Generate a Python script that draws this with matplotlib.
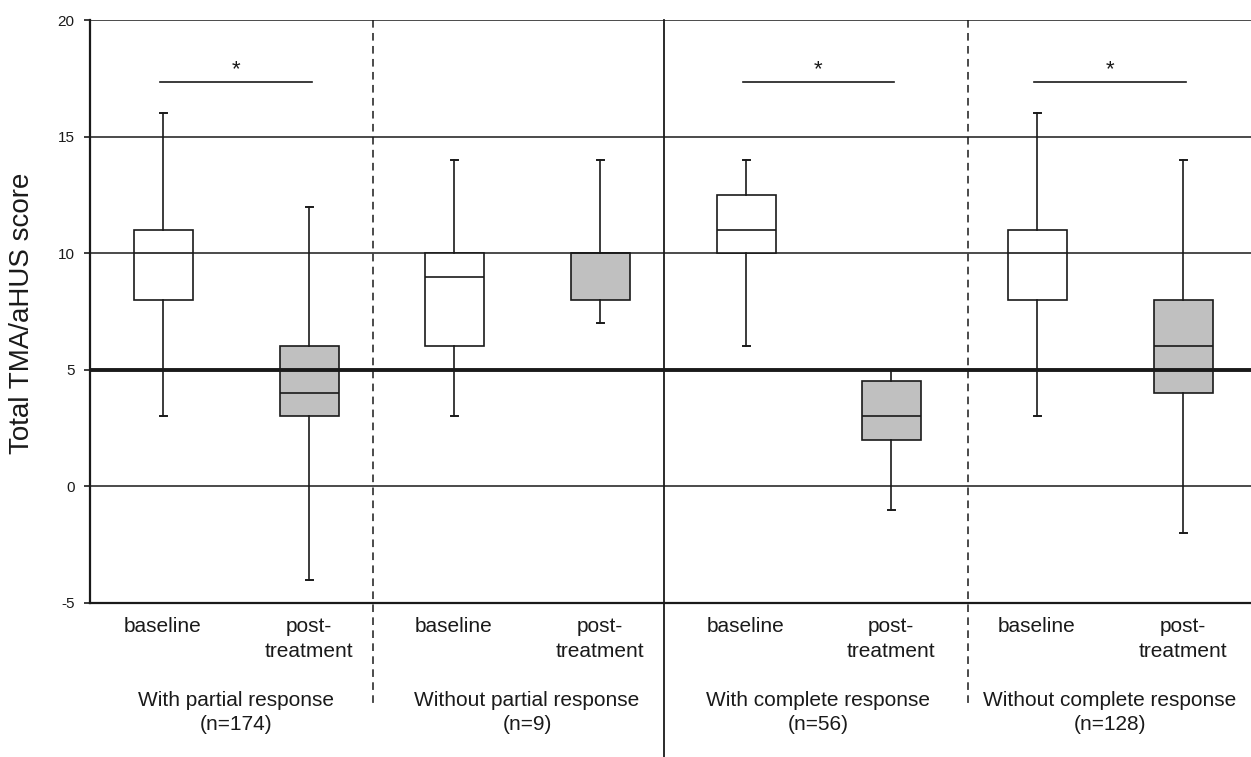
import matplotlib
matplotlib.use("Agg")
import matplotlib.pyplot as plt

# === Data ===
group_names = ["With partial response", "Without partial response",
               "With complete response", "Without complete response"]
group_n = [174, 9, 56, 128]
box_labels = ["baseline", "post-\ntreatment"] * 4

whis_lo = [3, -4, 3, 7, 6, -1, 3, -2]
q1 = [8, 3, 6, 8, 10, 2, 8, 4]
medians = [10, 4, 9, 10, 11, 3, 10, 6]
q3 = [11, 6, 10, 10, 12.5, 4.5, 11, 8]
whis_hi = [16, 12, 14, 14, 14, 5, 16, 14]

sig_pairs = [(0, 1), (4, 5), (6, 7)]
sig_level = 17.35
threshold = 5

# === Layout (x in pixel-like units of the original figure) ===
positions = [163, 309, 454, 600, 746, 891, 1037, 1183]
dividers = [(373, "dashed", -9.5), (664, "solid", -11.6), (968, "dashed", -9.5)]
fills = ["white", "#c0c0c0"] * 4
ink = "#1a1a1a"

plt.rcParams["font.family"] = ["Liberation Sans", "DejaVu Sans"]

W, H = 1251, 757
fig = plt.figure(figsize=(W / 100, H / 100), dpi=100)
ax = fig.add_axes([90 / W, 1 - 603 / H, (W - 90) / W, (603 - 20) / H])
ax.set_xlim(90, W)
ax.set_ylim(-5, 20)

# grid lines (thin) and the threshold line (thick, on top)
for yv in [0, 10, 15, 20]:
    ax.axhline(yv, color=ink, lw=1.1, zorder=1)
ax.axhline(threshold, color=ink, lw=2.8, zorder=5)

stats = []
for i in range(len(medians)):
    stats.append({"whislo": whis_lo[i], "q1": q1[i], "med": medians[i],
                  "q3": q3[i], "whishi": whis_hi[i], "fliers": []})

bp = ax.bxp(stats, positions=positions, widths=59, capwidths=7,
            patch_artist=True, showfliers=False, manage_ticks=False,
            boxprops=dict(edgecolor=ink, linewidth=1.2),
            medianprops=dict(color=ink, linewidth=1.2),
            whiskerprops=dict(color=ink, linewidth=1.2),
            capprops=dict(color=ink, linewidth=1.4))
for patch, fc in zip(bp["boxes"], fills):
    patch.set_facecolor(fc)
    patch.set_zorder(3)
for key in ["medians", "whiskers", "caps"]:
    for ln in bp[key]:
        ln.set_zorder(4)

# === Significance bars ===
for a, b in sig_pairs:
    ax.plot([positions[a] - 3, positions[b] + 3], [sig_level, sig_level],
            color=ink, lw=1.2, zorder=4)
    ax.text((positions[a] + positions[b]) / 2, sig_level + 0.05, "*",
            ha="center", va="bottom", fontsize=16, color=ink)

# === Panel dividers ===
for xd, style, yend in dividers:
    if style == "dashed":
        ax.plot([xd, xd], [20, yend], color=ink, lw=1.1,
                dashes=(5, 3.5), clip_on=False, zorder=2)
    else:
        ax.plot([xd, xd], [20, yend], color=ink, lw=1.3,
                clip_on=False, zorder=2)

# === Spines and ticks ===
for s in ["top", "right"]:
    ax.spines[s].set_visible(False)
ax.spines["left"].set_linewidth(1.6)
ax.spines["bottom"].set_linewidth(1.6)
ax.spines["left"].set_color(ink)
ax.spines["bottom"].set_color(ink)
ax.set_yticks([-5, 0, 5, 10, 15, 20])
ax.set_yticklabels(["-5", "0", "5", "10", "15", "20"])
ax.tick_params(axis="y", direction="out", length=4, width=1.2,
               labelsize=11, pad=7, colors=ink)
ax.set_xticks([])

# === Category labels under the boxes ===
px = 100 / 72
for xp, lab in zip(positions, box_labels):
    lines = lab.split("\n")
    for k, line in enumerate(lines):
        ax.annotate(line, xy=(xp, 0), xycoords=("data", "axes fraction"),
                    xytext=(0, -(29 + 25 * k) / px), textcoords="offset points",
                    ha="center", va="baseline", fontsize=15, color=ink,
                    annotation_clip=False)

# === Group labels ===
for g, (name, n) in enumerate(zip(group_names, group_n)):
    xc = (positions[2 * g] + positions[2 * g + 1]) / 2
    for k, line in enumerate([name, f"(n={n})"]):
        ax.annotate(line, xy=(xc, 0), xycoords=("data", "axes fraction"),
                    xytext=(0, -(103 + 24.5 * k) / px), textcoords="offset points",
                    ha="center", va="baseline", fontsize=15, color=ink,
                    annotation_clip=False)

fig.text(22 / W, 1 - 313 / H, "Total TMA/aHUS score", rotation=90,
         ha="center", va="center", fontsize=20, color=ink)

fig.savefig("out.png", dpi=100)
